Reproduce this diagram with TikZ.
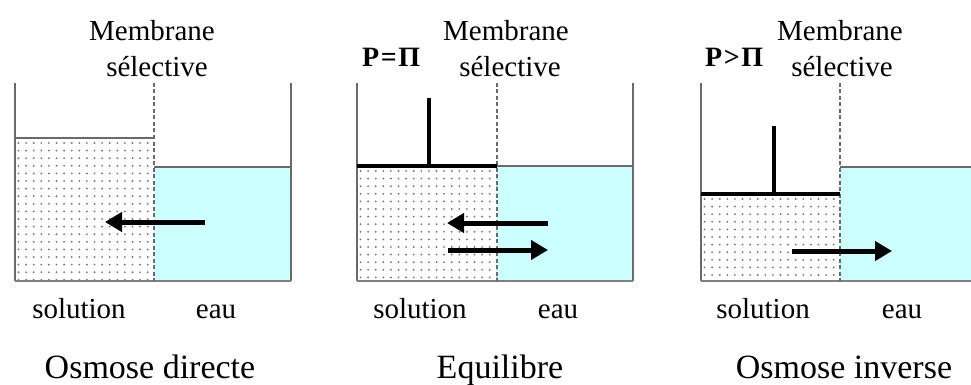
\documentclass[tikz,border=0pt]{standalone}
\usepackage{fontspec}
\setmainfont{Liberation Serif}
\usetikzlibrary{arrows.meta}
\definecolor{waterc}{HTML}{CCFFFF}
\definecolor{wallc}{HTML}{6A6A6A}
\definecolor{dotc}{HTML}{7A7A7A}
\newcommand{\stip}[4]{%
  \begin{scope}
    \clip (#1,#2) rectangle (#3,#4);
    \foreach \xx in {0,...,20}{\foreach \yy in {0,...,20}{%
      \fill[dotc] ({#1+3.5+\xx*7.6},{#2+5+\yy*7.6}) circle (1.05);}}
  \end{scope}}
\begin{document}
\begin{tikzpicture}[x=1pt,y=-1pt,
  wall/.style={draw=wallc, line width=1.5pt},
  bottomline/.style={draw=wallc!85, line width=2.6pt},
  level/.style={draw=wallc, line width=2pt},
  piston/.style={draw=black, line width=3.8pt},
  stem/.style={draw=black, line width=3.4pt},
  membrane/.style={draw=wallc, line width=1.5pt, dash pattern=on 4pt off 2.5pt},
  flow/.style={draw=black, line width=5pt, -{Triangle[length=17pt,width=19pt]}},
  lbl/.style={font=\fontsize{29}{30}\selectfont, anchor=base, inner sep=0pt},
  ttl/.style={font=\fontsize{34}{35}\selectfont, anchor=base, inner sep=0pt, text depth=0pt},
  pl/.style={font=\fontsize{28}{29}\selectfont\bfseries, anchor=base west, inner sep=0pt}]
\useasboundingbox (0,0) rectangle (971,385);
\fill[white] (0,0) rectangle (971,385);

% ---------- Panel 1 : Osmose directe
\fill[waterc] (154,167) rectangle (291,281);
\stip{15}{138}{154}{281}
\draw[level] (15,138) -- (154,138);
\draw[level] (154,167) -- (291,167);
\draw[wall] (15,83) -- (15,281);
\draw[wall] (291,83) -- (291,281);
\draw[bottomline] (15,281) -- (291,281);
\draw[membrane] (154,83) -- (154,281);
\coordinate (a1s) at (205,222);
\coordinate (a1e) at (105,222);
\draw[flow] (a1s) -- (a1e);
\node[lbl] (m1) at (152,41) {Membrane};
\node[lbl] (s1) at (157,77) {sélective};
\node[lbl] (sol1) at (79,318) {solution};
\node[lbl] (eau1) at (216,318) {eau};
\node[ttl] (t1) at (150,378) {Osmose directe};

% ---------- Panel 2 : Equilibre
\fill[waterc] (497,166) rectangle (633,281);
\stip{357}{166}{497}{281}
\draw[level] (497,166) -- (633,166);
\draw[wall] (357,83) -- (357,281);
\draw[wall] (633,83) -- (633,281);
\draw[bottomline] (357,281) -- (633,281);
\draw[membrane] (497,83) -- (497,281);
\draw[piston] (357,166) -- (497,166);
\draw[stem] (429,98) -- (429,166);
\coordinate (a2s) at (548,223);
\coordinate (a2e) at (447,223);
\coordinate (a3s) at (448,250);
\coordinate (a3e) at (548,250);
\draw[flow] (a2s) -- (a2e);
\draw[flow] (a3s) -- (a3e);
\node[pl] (p2) at (362,67) {P\kern1.5pt=\kern1.5ptΠ};
\node[lbl] (m2) at (506,41) {Membrane};
\node[lbl] (s2) at (510,77) {sélective};
\node[lbl] (sol2) at (420,318) {solution};
\node[lbl] (eau2) at (558,318) {eau};
\node[ttl] (t2) at (500,378) {Equilibre};

% ---------- Panel 3 : Osmose inverse
\fill[waterc] (840,167) rectangle (971,281);
\stip{701}{194}{840}{281}
\draw[level] (840,167) -- (971,167);
\draw[wall] (701,83) -- (701,281);
\draw[bottomline] (701,281) -- (971,281);
\draw[membrane] (840,83) -- (840,281);
\draw[piston] (701,194) -- (840,194);
\draw[stem] (774,126) -- (774,194);
\coordinate (a4s) at (792,251);
\coordinate (a4e) at (892,251);
\draw[flow] (a4s) -- (a4e);
\node[pl] (p3) at (705,67) {P\kern1.5pt>\kern1.5ptΠ};
\node[lbl] (m3) at (840,41) {Membrane};
\node[lbl] (s3) at (842,77) {sélective};
\node[lbl] (sol3) at (763,318) {solution};
\node[lbl] (eau3) at (902,318) {eau};
\node[ttl] (t3) at (844,378) {Osmose inverse};
\end{tikzpicture}
\end{document}
